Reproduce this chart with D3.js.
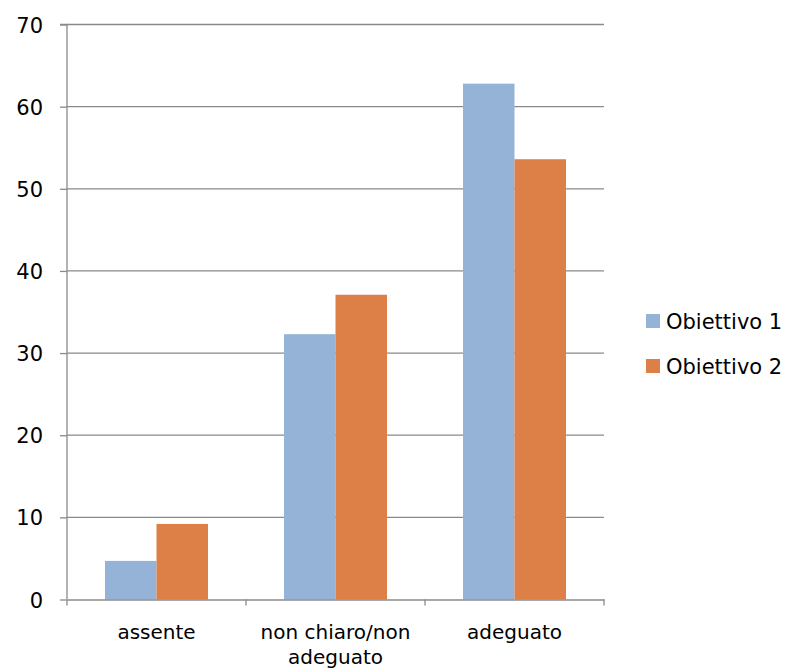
<!DOCTYPE html>
<html><head><meta charset="utf-8">
<script src="https://cdn.jsdelivr.net/npm/d3@7"></script>
<style>body{margin:0;background:#fff}svg{display:block}text{font-family:"DejaVu Sans",sans-serif;fill:#000}</style>
</head><body><svg id="c" width="788" height="669"></svg>
<script>
const categories = [["assente"], ["non chiaro/non", "adeguato"], ["adeguato"]];
const categoryKeys = ["assente", "non chiaro/non adeguato", "adeguato"];
const seriesNames = ["Obiettivo 1", "Obiettivo 2"];
const obiettivo1 = [4.7, 32.3, 62.8];
const obiettivo2 = [9.2, 37.1, 53.6];
const yTicks = [0, 10, 20, 30, 40, 50, 60, 70];
const colors = ["#95B3D7", "#DD8047"];

const svg = d3.select("#c");
const L = 67, R = 604, T = 24.5, B = 599.5;
const x = d3.scaleBand().domain(categoryKeys).range([L, R]).padding(0);
const y = d3.scaleLinear().domain([0, 70]).range([B, T]);
const groupW = 103;
const xi = d3.scaleBand().domain(seriesNames).range([0, groupW]).padding(0);
const grid = "#8a8a8a";

svg.append("g").selectAll("line").data(yTicks.filter(d => d > 0)).join("line")
  .attr("x1", L).attr("x2", R).attr("y1", d => y(d)).attr("y2", d => y(d))
  .attr("stroke", grid).attr("stroke-width", 1.3);

const series = [obiettivo1, obiettivo2];
const g = svg.append("g");
categoryKeys.forEach((c, i) => {
  const x0 = x(c) + (x.bandwidth() - groupW) / 2;
  seriesNames.forEach((s, j) => {
    g.append("rect")
      .attr("x", x0 + xi(s)).attr("width", xi.bandwidth())
      .attr("y", y(series[j][i])).attr("height", B - y(series[j][i]))
      .attr("fill", colors[j]);
  });
});

const ya = svg.append("g").attr("transform", `translate(${L},0)`)
  .call(d3.axisLeft(y).tickValues(yTicks).tickSize(7).tickPadding(17).tickFormat(d3.format("d")));
ya.attr("font-size", null).attr("font-family", null);
ya.select(".domain").attr("stroke", grid).attr("stroke-width", 1.3).attr("d", `M-7,${T}H0V${B}`);
ya.selectAll(".tick line").attr("stroke", grid).attr("stroke-width", 1.3);
ya.selectAll(".tick text").style("font-size", "21px").attr("fill", "#000").attr("dy", "0.36em");

const xa = svg.append("g").attr("transform", `translate(0,${B})`)
  .call(d3.axisBottom(x).tickSize(0).tickFormat(""));
xa.select(".domain").attr("stroke", grid).attr("stroke-width", 1.3);
const xt = [L, ...categoryKeys.map(c => x(c) + x.bandwidth())];
xa.selectAll(".xt").data(xt).join("line").attr("class", "xt")
  .attr("x1", d => d).attr("x2", d => d).attr("y1", 0).attr("y2", 6)
  .attr("stroke", grid).attr("stroke-width", 1.3);

categoryKeys.forEach((c, i) => {
  const t = svg.append("text").attr("text-anchor", "middle").style("font-size", "20px")
    .attr("x", x(c) + x.bandwidth() / 2).attr("y", 639);
  categories[i].forEach((line, k) => {
    t.append("tspan").attr("x", x(c) + x.bandwidth() / 2).attr("dy", k === 0 ? 0 : 25).text(line);
  });
});

const lg = svg.append("g");
seriesNames.forEach((s, j) => {
  lg.append("rect").attr("x", 646).attr("y", 314 + j * 45).attr("width", 14).attr("height", 14).attr("fill", colors[j]);
  lg.append("text").attr("x", 666).attr("y", 329 + j * 45).style("font-size", "21px").text(s);
});
</script></body></html>
